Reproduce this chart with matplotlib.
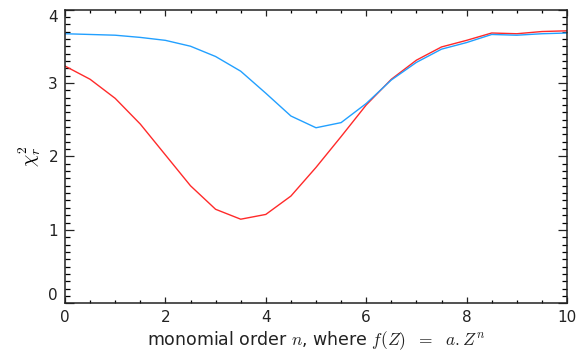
import matplotlib
matplotlib.use("Agg")
import matplotlib.pyplot as plt
from matplotlib.ticker import MultipleLocator

n_order = [0, 0.5, 1, 1.5, 2, 2.5, 3, 3.5, 4, 4.5, 5, 5.5, 6, 6.5, 7, 7.5, 8, 8.5, 9, 9.5, 10]
chi2_red = [3.23, 3.05, 2.79, 2.44, 2.02, 1.60, 1.28, 1.145, 1.21, 1.46, 1.85, 2.27, 2.70,
            3.05, 3.31, 3.49, 3.58, 3.68, 3.67, 3.70, 3.71]
chi2_blue = [3.67, 3.66, 3.65, 3.62, 3.58, 3.50, 3.36, 3.16, 2.86, 2.55, 2.39, 2.46, 2.72,
             3.04, 3.28, 3.46, 3.55, 3.66, 3.65, 3.67, 3.68]
x_ticks = [0, 2, 4, 6, 8, 10]
y_ticks = [0, 1, 2, 3, 4]

plt.rcParams['mathtext.fontset'] = 'cm'
plt.rcParams['font.family'] = ['DejaVu Sans']

fig = plt.figure(figsize=(5.83, 3.56), dpi=100)
ax = fig.add_axes([65/583, 1 - 303.3/356, (567 - 65)/583, (303.3 - 9.5)/356])

ax.plot(n_order, chi2_red, color='#ff2a2a', lw=1.0)
ax.plot(n_order, chi2_blue, color='#22a0ff', lw=1.0)

ax.set_xlim(0, 10)
ax.set_ylim(0, 4)
ax.set_xticks(x_ticks)
ax.set_yticks(y_ticks)
ax.set_xticklabels([str(v) for v in x_ticks])
ax.set_yticklabels([str(v) for v in y_ticks])
ax.xaxis.set_minor_locator(MultipleLocator(0.5))
ax.yaxis.set_minor_locator(MultipleLocator(0.1))

ax.tick_params(axis='x', which='major', direction='in', top=True, bottom=True,
               length=4.2, width=0.9, labelsize=11, pad=5, colors='#222222')
ax.tick_params(axis='x', which='minor', direction='in', top=True, bottom=True,
               length=2.3, width=0.9)
ax.tick_params(axis='y', which='major', direction='in', left=True, right=True,
               length=6.8, width=0.9, labelsize=11, pad=5, colors='#222222')
ax.tick_params(axis='y', which='minor', direction='in', left=True, right=True,
               length=3.6, width=0.9)
for s in ax.spines.values():
    s.set_linewidth(1.1)
    s.set_color('#222222')

ylabels = ax.get_yticklabels()
ylabels[0].set_va('bottom')
ylabels[-1].set_va('top')

ax.set_xlabel(r'monomial order $n$, where $f(Z)\ \ =\ \ a.Z^n$', fontsize=12.5, labelpad=3,
              color='#222222')
ax.set_ylabel(r'$\chi^2_r$', fontsize=14, labelpad=4)

fig.savefig('out.png', dpi=100)
